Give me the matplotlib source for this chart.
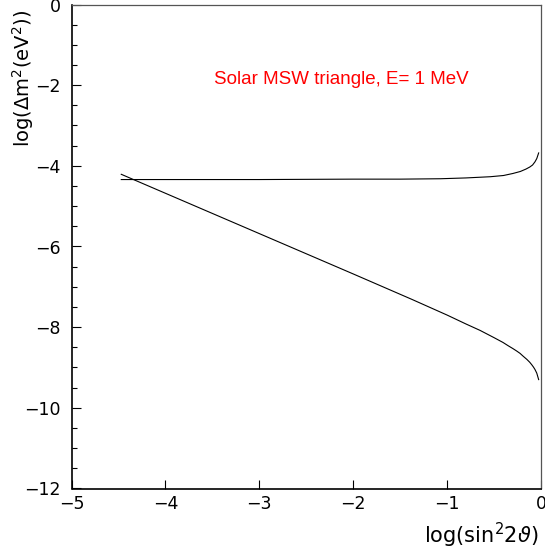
import matplotlib
matplotlib.use("Agg")
import matplotlib.pyplot as plt
from matplotlib.ticker import MultipleLocator

# upper (adiabatic) edge of the triangle
upper_x = [-4.47, -4.0, -3.0, -2.0, -1.5, -1.07, -0.80, -0.54, -0.40, -0.30, -0.22, -0.16, -0.12, -0.09, -0.064, -0.045, -0.025]
upper_y = [-4.34, -4.34, -4.34, -4.33, -4.33, -4.32, -4.30, -4.27, -4.24, -4.19, -4.14, -4.08, -4.03, -3.98, -3.90, -3.82, -3.68]

# lower (non-adiabatic) edge
lower_x = [-4.47, -4.0, -3.0, -2.0, -1.376, -1.0, -0.80, -0.649, -0.50, -0.404, -0.35, -0.30, -0.26, -0.223, -0.19, -0.15, -0.12, -0.099, -0.08, -0.064, -0.045, -0.025]
lower_y = [-4.21, -4.68, -5.68, -6.68, -7.31, -7.70, -7.92, -8.08, -8.26, -8.38, -8.46, -8.53, -8.59, -8.65, -8.72, -8.80, -8.87, -8.93, -8.99, -9.05, -9.14, -9.30]

title_text = "Solar MSW triangle, E= 1 MeV"

fig = plt.figure(figsize=(5.45, 5.59), dpi=100)
ax = fig.add_axes([71.5/545, 1-488.5/559, 469.5/545, 484/559])

ax.plot(upper_x, upper_y, 'k-', lw=0.8)
ax.plot(lower_x, lower_y, 'k-', lw=0.8)

ax.set_xlim(-5, 0)
ax.set_ylim(-12, 0)

ax.xaxis.set_major_locator(MultipleLocator(1))
ax.yaxis.set_major_locator(MultipleLocator(2))
ax.yaxis.set_minor_locator(MultipleLocator(0.5))

ax.tick_params(axis='both', which='both', direction='in', top=False, right=False, labelsize=12.5)
ax.tick_params(axis='y', which='major', length=6.5, width=0.8, pad=8)
ax.tick_params(axis='y', which='minor', length=3.6, width=0.8)
ax.tick_params(axis='x', which='major', length=6.5, width=0.8, pad=5)

for side in ['left', 'bottom']:
    ax.spines[side].set_linewidth(1.2)
for side in ['top', 'right']:
    ax.spines[side].set_linewidth(0.9)
    ax.spines[side].set_color('#555555')

ax.text(-2.13, -1.87, title_text, color='red', fontsize=13.5, family='Liberation Sans',
        ha='center', va='center')

fig.text(539/545, 1-535/559, r"log(sin$^2$2$\vartheta$)", fontsize=15, ha='right', va='center')
fig.text(23/545, 1-10/559, r"log($\Delta$m$^2$(eV$^2$))", fontsize=14, rotation=90, ha='center', va='top')

fig.savefig("out.png", dpi=100)
